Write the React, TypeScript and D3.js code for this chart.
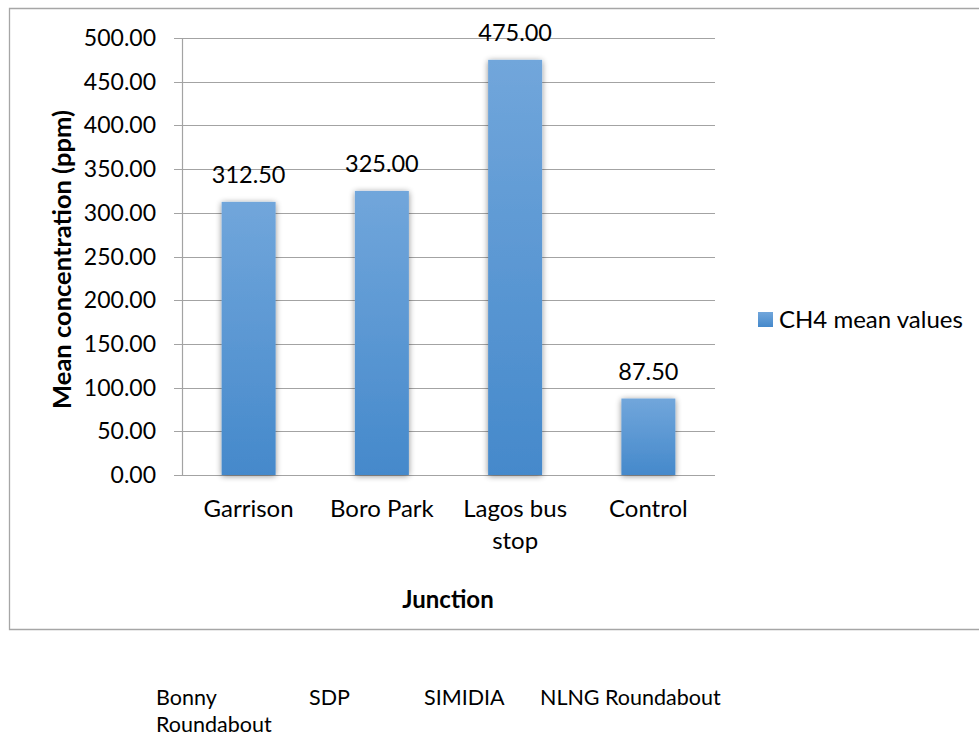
import React from "react";
import * as d3 from "d3";

const categories: string[][] = [["Garrison"], ["Boro Park"], ["Lagos bus", "stop"], ["Control"]];
const values: number[] = [312.5, 325.0, 475.0, 87.5];
const yTicks: number[] = [0, 50, 100, 150, 200, 250, 300, 350, 400, 450, 500];
const seriesName = "CH4 mean values";
const yTitle = "Mean concentration (ppm)";
const xTitle = "Junction";
const footerRow1: { text: string; x: number }[] = [
  { text: "Bonny", x: 156 },
  { text: "SDP", x: 309 },
  { text: "SIMIDIA", x: 424 },
  { text: "NLNG Roundabout", x: 540 },
];
const footerRow2: { text: string; x: number }[] = [{ text: "Roundabout", x: 156 }];

const FONT = "Lato, 'Open Sans', sans-serif";

export default function App() {
  const W = 979;
  const H = 735;
  const left = 182;
  const right = 715;
  const top = 38;
  const bottom = 475;
  const keys = categories.map((c) => c.join(" "));
  const x = d3.scaleBand<string>().domain(keys).range([left, right]).padding(0);
  const y = d3.scaleLinear().domain([0, 500]).range([bottom, top]);
  const bw = x.bandwidth() * 0.405;
  const fmt = d3.format(".2f");
  const grid = "#a3a3a3";

  return (
    <svg width={W} height={H} style={{ position: "absolute", left: 0, top: 0, background: "#fff" }}>
      <defs>
        <linearGradient id="barGrad" x1="0" y1="0" x2="0" y2="1">
          <stop offset="0%" stopColor="#71a6db" />
          <stop offset="100%" stopColor="#4589cb" />
        </linearGradient>
        <filter id="shadow" x="-30%" y="-10%" width="160%" height="120%">
          <feGaussianBlur in="SourceAlpha" stdDeviation="3" />
          <feOffset dx="0" dy="1" result="b" />
          <feComponentTransfer>
            <feFuncA type="linear" slope="0.45" />
          </feComponentTransfer>
          <feMerge>
            <feMergeNode />
            <feMergeNode in="SourceGraphic" />
          </feMerge>
        </filter>
      </defs>
      {/* outer frame */}
      <path d={`M${W + 5},8.5 H9.5 V629.5 H${W + 5}`} fill="none" stroke="#a6a6a6" strokeWidth={1.3} />
      {/* gridlines and ticks */}
      {yTicks.map((t) => (
        <line key={t} x1={174} x2={right} y1={Math.round(y(t)) + 0.5} y2={Math.round(y(t)) + 0.5} stroke={grid} strokeWidth={1.2} />
      ))}
      <line x1={left + 0.5} x2={left + 0.5} y1={top} y2={bottom} stroke={grid} strokeWidth={1.2} />
      {yTicks.map((t) => (
        <text key={"l" + t} x={156} y={y(t) + 8} textAnchor="end" fontFamily={FONT} fontSize={23} fill="#000">
          {fmt(t)}
        </text>
      ))}
      {/* bars */}
      {values.map((v, i) => {
        const cx = (x(keys[i]) as number) + x.bandwidth() / 2;
        return (
          <g key={keys[i]}>
            <rect x={cx - bw / 2} y={y(v)} width={bw} height={bottom - y(v)} fill="url(#barGrad)" filter="url(#shadow)" />
            <text x={cx} y={y(v) - 19} textAnchor="middle" fontFamily={FONT} fontSize={23.5} fill="#000">
              {fmt(v)}
            </text>
          </g>
        );
      })}
      {/* x labels */}
      {categories.map((c, i) => {
        const cx = (x(keys[i]) as number) + x.bandwidth() / 2;
        return (
          <text key={"x" + i} textAnchor="middle" fontFamily={FONT} fontSize={24} fill="#000">
            {c.map((line, j) => (
              <tspan key={j} x={cx} y={517 + j * 32}>
                {line}
              </tspan>
            ))}
          </text>
        );
      })}
      {/* axis titles */}
      <text
        transform={`translate(71,${(top + bottom) / 2 + 3}) rotate(-90)`}
        textAnchor="middle"
        fontFamily={FONT}
        fontWeight="bold"
        fontSize={25.5}
        fill="#000"
      >
        {yTitle}
      </text>
      <text x={448} y={608} textAnchor="middle" fontFamily={FONT} fontWeight="bold" fontSize={24} fill="#000">
        {xTitle}
      </text>
      {/* legend */}
      <rect x={758} y={312} width={15} height={15} fill="url(#barGrad)" />
      <text x={779} y={328} fontFamily={FONT} fontSize={24} fill="#000">
        {seriesName}
      </text>
      {/* footer text */}
      {footerRow1.map((f) => (
        <text key={f.text} x={f.x} y={705} fontFamily={FONT} fontSize={21.5} fill="#000">
          {f.text}
        </text>
      ))}
      {footerRow2.map((f) => (
        <text key={f.text} x={f.x} y={732} fontFamily={FONT} fontSize={21.5} fill="#000">
          {f.text}
        </text>
      ))}
    </svg>
  );
}
